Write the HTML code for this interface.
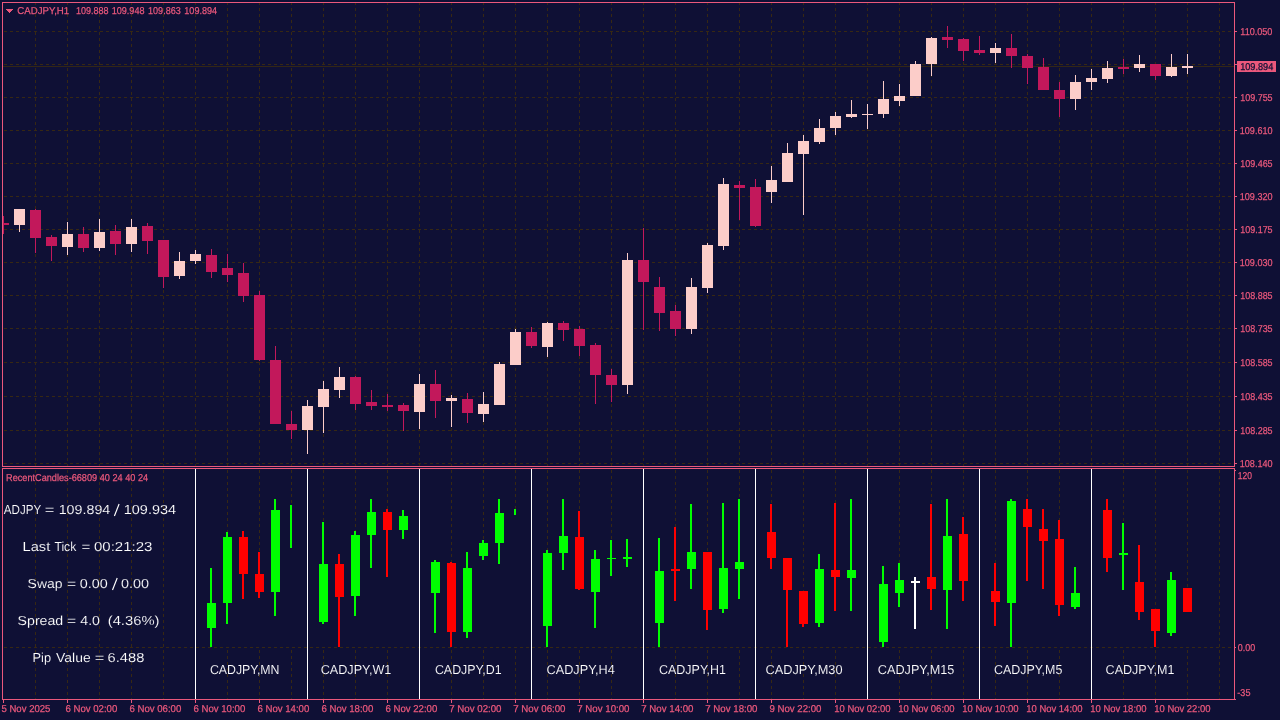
<!DOCTYPE html>
<html><head><meta charset="utf-8"><title>CADJPY,H1</title>
<style>
html,body{margin:0;padding:0;background:#0F1035;width:1280px;height:720px;overflow:hidden}
svg{display:block;position:absolute;left:0;top:0;will-change:transform}
text{font-family:"Liberation Sans",sans-serif;white-space:pre;text-rendering:geometricPrecision}
</style></head>
<body>
<svg width="1280" height="720" viewBox="0 0 1280 720" shape-rendering="crispEdges">
<defs>
<clipPath id="mainclip"><rect x="3" y="3" width="1231" height="463"/></clipPath>
<clipPath id="subclip"><rect x="3" y="469" width="1231" height="230"/></clipPath>
</defs>
<rect x="0" y="0" width="1280" height="720" fill="#0F1035"/>
<g id="grid">
<line x1="35.5" y1="3" x2="35.5" y2="466" stroke="#372813" stroke-width="1" stroke-dasharray="3 3" stroke-dashoffset="1"/>
<line x1="35.5" y1="469" x2="35.5" y2="699" stroke="#372813" stroke-width="1" stroke-dasharray="3 3" stroke-dashoffset="5"/>
<line x1="67.5" y1="3" x2="67.5" y2="466" stroke="#372813" stroke-width="1" stroke-dasharray="3 3" stroke-dashoffset="1"/>
<line x1="67.5" y1="469" x2="67.5" y2="699" stroke="#372813" stroke-width="1" stroke-dasharray="3 3" stroke-dashoffset="5"/>
<line x1="99.5" y1="3" x2="99.5" y2="466" stroke="#372813" stroke-width="1" stroke-dasharray="3 3" stroke-dashoffset="1"/>
<line x1="99.5" y1="469" x2="99.5" y2="699" stroke="#372813" stroke-width="1" stroke-dasharray="3 3" stroke-dashoffset="5"/>
<line x1="131.5" y1="3" x2="131.5" y2="466" stroke="#372813" stroke-width="1" stroke-dasharray="3 3" stroke-dashoffset="1"/>
<line x1="131.5" y1="469" x2="131.5" y2="699" stroke="#372813" stroke-width="1" stroke-dasharray="3 3" stroke-dashoffset="5"/>
<line x1="163.5" y1="3" x2="163.5" y2="466" stroke="#372813" stroke-width="1" stroke-dasharray="3 3" stroke-dashoffset="1"/>
<line x1="163.5" y1="469" x2="163.5" y2="699" stroke="#372813" stroke-width="1" stroke-dasharray="3 3" stroke-dashoffset="5"/>
<line x1="195.5" y1="3" x2="195.5" y2="466" stroke="#372813" stroke-width="1" stroke-dasharray="3 3" stroke-dashoffset="1"/>
<line x1="195.5" y1="469" x2="195.5" y2="699" stroke="#372813" stroke-width="1" stroke-dasharray="3 3" stroke-dashoffset="5"/>
<line x1="227.5" y1="3" x2="227.5" y2="466" stroke="#372813" stroke-width="1" stroke-dasharray="3 3" stroke-dashoffset="1"/>
<line x1="227.5" y1="469" x2="227.5" y2="699" stroke="#372813" stroke-width="1" stroke-dasharray="3 3" stroke-dashoffset="5"/>
<line x1="259.5" y1="3" x2="259.5" y2="466" stroke="#372813" stroke-width="1" stroke-dasharray="3 3" stroke-dashoffset="1"/>
<line x1="259.5" y1="469" x2="259.5" y2="699" stroke="#372813" stroke-width="1" stroke-dasharray="3 3" stroke-dashoffset="5"/>
<line x1="291.5" y1="3" x2="291.5" y2="466" stroke="#372813" stroke-width="1" stroke-dasharray="3 3" stroke-dashoffset="1"/>
<line x1="291.5" y1="469" x2="291.5" y2="699" stroke="#372813" stroke-width="1" stroke-dasharray="3 3" stroke-dashoffset="5"/>
<line x1="323.5" y1="3" x2="323.5" y2="466" stroke="#372813" stroke-width="1" stroke-dasharray="3 3" stroke-dashoffset="1"/>
<line x1="323.5" y1="469" x2="323.5" y2="699" stroke="#372813" stroke-width="1" stroke-dasharray="3 3" stroke-dashoffset="5"/>
<line x1="355.5" y1="3" x2="355.5" y2="466" stroke="#372813" stroke-width="1" stroke-dasharray="3 3" stroke-dashoffset="1"/>
<line x1="355.5" y1="469" x2="355.5" y2="699" stroke="#372813" stroke-width="1" stroke-dasharray="3 3" stroke-dashoffset="5"/>
<line x1="387.5" y1="3" x2="387.5" y2="466" stroke="#372813" stroke-width="1" stroke-dasharray="3 3" stroke-dashoffset="1"/>
<line x1="387.5" y1="469" x2="387.5" y2="699" stroke="#372813" stroke-width="1" stroke-dasharray="3 3" stroke-dashoffset="5"/>
<line x1="419.5" y1="3" x2="419.5" y2="466" stroke="#372813" stroke-width="1" stroke-dasharray="3 3" stroke-dashoffset="1"/>
<line x1="419.5" y1="469" x2="419.5" y2="699" stroke="#372813" stroke-width="1" stroke-dasharray="3 3" stroke-dashoffset="5"/>
<line x1="451.5" y1="3" x2="451.5" y2="466" stroke="#372813" stroke-width="1" stroke-dasharray="3 3" stroke-dashoffset="1"/>
<line x1="451.5" y1="469" x2="451.5" y2="699" stroke="#372813" stroke-width="1" stroke-dasharray="3 3" stroke-dashoffset="5"/>
<line x1="483.5" y1="3" x2="483.5" y2="466" stroke="#372813" stroke-width="1" stroke-dasharray="3 3" stroke-dashoffset="1"/>
<line x1="483.5" y1="469" x2="483.5" y2="699" stroke="#372813" stroke-width="1" stroke-dasharray="3 3" stroke-dashoffset="5"/>
<line x1="515.5" y1="3" x2="515.5" y2="466" stroke="#372813" stroke-width="1" stroke-dasharray="3 3" stroke-dashoffset="1"/>
<line x1="515.5" y1="469" x2="515.5" y2="699" stroke="#372813" stroke-width="1" stroke-dasharray="3 3" stroke-dashoffset="5"/>
<line x1="547.5" y1="3" x2="547.5" y2="466" stroke="#372813" stroke-width="1" stroke-dasharray="3 3" stroke-dashoffset="1"/>
<line x1="547.5" y1="469" x2="547.5" y2="699" stroke="#372813" stroke-width="1" stroke-dasharray="3 3" stroke-dashoffset="5"/>
<line x1="579.5" y1="3" x2="579.5" y2="466" stroke="#372813" stroke-width="1" stroke-dasharray="3 3" stroke-dashoffset="1"/>
<line x1="579.5" y1="469" x2="579.5" y2="699" stroke="#372813" stroke-width="1" stroke-dasharray="3 3" stroke-dashoffset="5"/>
<line x1="611.5" y1="3" x2="611.5" y2="466" stroke="#372813" stroke-width="1" stroke-dasharray="3 3" stroke-dashoffset="1"/>
<line x1="611.5" y1="469" x2="611.5" y2="699" stroke="#372813" stroke-width="1" stroke-dasharray="3 3" stroke-dashoffset="5"/>
<line x1="643.5" y1="3" x2="643.5" y2="466" stroke="#372813" stroke-width="1" stroke-dasharray="3 3" stroke-dashoffset="1"/>
<line x1="643.5" y1="469" x2="643.5" y2="699" stroke="#372813" stroke-width="1" stroke-dasharray="3 3" stroke-dashoffset="5"/>
<line x1="675.5" y1="3" x2="675.5" y2="466" stroke="#372813" stroke-width="1" stroke-dasharray="3 3" stroke-dashoffset="1"/>
<line x1="675.5" y1="469" x2="675.5" y2="699" stroke="#372813" stroke-width="1" stroke-dasharray="3 3" stroke-dashoffset="5"/>
<line x1="707.5" y1="3" x2="707.5" y2="466" stroke="#372813" stroke-width="1" stroke-dasharray="3 3" stroke-dashoffset="1"/>
<line x1="707.5" y1="469" x2="707.5" y2="699" stroke="#372813" stroke-width="1" stroke-dasharray="3 3" stroke-dashoffset="5"/>
<line x1="739.5" y1="3" x2="739.5" y2="466" stroke="#372813" stroke-width="1" stroke-dasharray="3 3" stroke-dashoffset="1"/>
<line x1="739.5" y1="469" x2="739.5" y2="699" stroke="#372813" stroke-width="1" stroke-dasharray="3 3" stroke-dashoffset="5"/>
<line x1="771.5" y1="3" x2="771.5" y2="466" stroke="#372813" stroke-width="1" stroke-dasharray="3 3" stroke-dashoffset="1"/>
<line x1="771.5" y1="469" x2="771.5" y2="699" stroke="#372813" stroke-width="1" stroke-dasharray="3 3" stroke-dashoffset="5"/>
<line x1="803.5" y1="3" x2="803.5" y2="466" stroke="#372813" stroke-width="1" stroke-dasharray="3 3" stroke-dashoffset="1"/>
<line x1="803.5" y1="469" x2="803.5" y2="699" stroke="#372813" stroke-width="1" stroke-dasharray="3 3" stroke-dashoffset="5"/>
<line x1="835.5" y1="3" x2="835.5" y2="466" stroke="#372813" stroke-width="1" stroke-dasharray="3 3" stroke-dashoffset="1"/>
<line x1="835.5" y1="469" x2="835.5" y2="699" stroke="#372813" stroke-width="1" stroke-dasharray="3 3" stroke-dashoffset="5"/>
<line x1="867.5" y1="3" x2="867.5" y2="466" stroke="#372813" stroke-width="1" stroke-dasharray="3 3" stroke-dashoffset="1"/>
<line x1="867.5" y1="469" x2="867.5" y2="699" stroke="#372813" stroke-width="1" stroke-dasharray="3 3" stroke-dashoffset="5"/>
<line x1="899.5" y1="3" x2="899.5" y2="466" stroke="#372813" stroke-width="1" stroke-dasharray="3 3" stroke-dashoffset="1"/>
<line x1="899.5" y1="469" x2="899.5" y2="699" stroke="#372813" stroke-width="1" stroke-dasharray="3 3" stroke-dashoffset="5"/>
<line x1="931.5" y1="3" x2="931.5" y2="466" stroke="#372813" stroke-width="1" stroke-dasharray="3 3" stroke-dashoffset="1"/>
<line x1="931.5" y1="469" x2="931.5" y2="699" stroke="#372813" stroke-width="1" stroke-dasharray="3 3" stroke-dashoffset="5"/>
<line x1="963.5" y1="3" x2="963.5" y2="466" stroke="#372813" stroke-width="1" stroke-dasharray="3 3" stroke-dashoffset="1"/>
<line x1="963.5" y1="469" x2="963.5" y2="699" stroke="#372813" stroke-width="1" stroke-dasharray="3 3" stroke-dashoffset="5"/>
<line x1="995.5" y1="3" x2="995.5" y2="466" stroke="#372813" stroke-width="1" stroke-dasharray="3 3" stroke-dashoffset="1"/>
<line x1="995.5" y1="469" x2="995.5" y2="699" stroke="#372813" stroke-width="1" stroke-dasharray="3 3" stroke-dashoffset="5"/>
<line x1="1027.5" y1="3" x2="1027.5" y2="466" stroke="#372813" stroke-width="1" stroke-dasharray="3 3" stroke-dashoffset="1"/>
<line x1="1027.5" y1="469" x2="1027.5" y2="699" stroke="#372813" stroke-width="1" stroke-dasharray="3 3" stroke-dashoffset="5"/>
<line x1="1059.5" y1="3" x2="1059.5" y2="466" stroke="#372813" stroke-width="1" stroke-dasharray="3 3" stroke-dashoffset="1"/>
<line x1="1059.5" y1="469" x2="1059.5" y2="699" stroke="#372813" stroke-width="1" stroke-dasharray="3 3" stroke-dashoffset="5"/>
<line x1="1091.5" y1="3" x2="1091.5" y2="466" stroke="#372813" stroke-width="1" stroke-dasharray="3 3" stroke-dashoffset="1"/>
<line x1="1091.5" y1="469" x2="1091.5" y2="699" stroke="#372813" stroke-width="1" stroke-dasharray="3 3" stroke-dashoffset="5"/>
<line x1="1123.5" y1="3" x2="1123.5" y2="466" stroke="#372813" stroke-width="1" stroke-dasharray="3 3" stroke-dashoffset="1"/>
<line x1="1123.5" y1="469" x2="1123.5" y2="699" stroke="#372813" stroke-width="1" stroke-dasharray="3 3" stroke-dashoffset="5"/>
<line x1="1155.5" y1="3" x2="1155.5" y2="466" stroke="#372813" stroke-width="1" stroke-dasharray="3 3" stroke-dashoffset="1"/>
<line x1="1155.5" y1="469" x2="1155.5" y2="699" stroke="#372813" stroke-width="1" stroke-dasharray="3 3" stroke-dashoffset="5"/>
<line x1="1187.5" y1="3" x2="1187.5" y2="466" stroke="#372813" stroke-width="1" stroke-dasharray="3 3" stroke-dashoffset="1"/>
<line x1="1187.5" y1="469" x2="1187.5" y2="699" stroke="#372813" stroke-width="1" stroke-dasharray="3 3" stroke-dashoffset="5"/>
<line x1="1219.5" y1="3" x2="1219.5" y2="466" stroke="#372813" stroke-width="1" stroke-dasharray="3 3" stroke-dashoffset="1"/>
<line x1="1219.5" y1="469" x2="1219.5" y2="699" stroke="#372813" stroke-width="1" stroke-dasharray="3 3" stroke-dashoffset="5"/>
<line x1="3" y1="31.5" x2="1234" y2="31.5" stroke="#372813" stroke-width="1" stroke-dasharray="3 3" stroke-dashoffset="5"/>
<line x1="3" y1="64.5" x2="1234" y2="64.5" stroke="#372813" stroke-width="1" stroke-dasharray="3 3" stroke-dashoffset="5"/>
<line x1="3" y1="97.5" x2="1234" y2="97.5" stroke="#372813" stroke-width="1" stroke-dasharray="3 3" stroke-dashoffset="5"/>
<line x1="3" y1="130.5" x2="1234" y2="130.5" stroke="#372813" stroke-width="1" stroke-dasharray="3 3" stroke-dashoffset="5"/>
<line x1="3" y1="163.5" x2="1234" y2="163.5" stroke="#372813" stroke-width="1" stroke-dasharray="3 3" stroke-dashoffset="5"/>
<line x1="3" y1="196.5" x2="1234" y2="196.5" stroke="#372813" stroke-width="1" stroke-dasharray="3 3" stroke-dashoffset="5"/>
<line x1="3" y1="229.5" x2="1234" y2="229.5" stroke="#372813" stroke-width="1" stroke-dasharray="3 3" stroke-dashoffset="5"/>
<line x1="3" y1="262.5" x2="1234" y2="262.5" stroke="#372813" stroke-width="1" stroke-dasharray="3 3" stroke-dashoffset="5"/>
<line x1="3" y1="295.5" x2="1234" y2="295.5" stroke="#372813" stroke-width="1" stroke-dasharray="3 3" stroke-dashoffset="5"/>
<line x1="3" y1="328.5" x2="1234" y2="328.5" stroke="#372813" stroke-width="1" stroke-dasharray="3 3" stroke-dashoffset="5"/>
<line x1="3" y1="362.5" x2="1234" y2="362.5" stroke="#372813" stroke-width="1" stroke-dasharray="3 3" stroke-dashoffset="5"/>
<line x1="3" y1="396.5" x2="1234" y2="396.5" stroke="#372813" stroke-width="1" stroke-dasharray="3 3" stroke-dashoffset="5"/>
<line x1="3" y1="430.5" x2="1234" y2="430.5" stroke="#372813" stroke-width="1" stroke-dasharray="3 3" stroke-dashoffset="5"/>
<line x1="3" y1="463.5" x2="1234" y2="463.5" stroke="#372813" stroke-width="1" stroke-dasharray="3 3" stroke-dashoffset="5"/>
<line x1="3" y1="647.5" x2="1234" y2="647.5" stroke="#372813" stroke-width="1" stroke-dasharray="3 3" stroke-dashoffset="5"/>
</g>
<rect x="3" y="66" width="1231" height="1" fill="#322617"/>
<g id="candles" clip-path="url(#mainclip)">
<rect x="3" y="216" width="1" height="18" fill="#C2185B"/>
<rect x="-2" y="223" width="11" height="2" fill="#C2185B"/>
<rect x="19" y="209" width="1" height="23" fill="#FCCDC9"/>
<rect x="14" y="209" width="11" height="16" fill="#FCCDC9"/>
<rect x="35" y="209" width="1" height="44" fill="#C2185B"/>
<rect x="30" y="210" width="11" height="28" fill="#C2185B"/>
<rect x="51" y="235" width="1" height="26" fill="#C2185B"/>
<rect x="46" y="237" width="11" height="9" fill="#C2185B"/>
<rect x="67" y="222" width="1" height="33" fill="#FCCDC9"/>
<rect x="62" y="234" width="11" height="13" fill="#FCCDC9"/>
<rect x="83" y="227" width="1" height="25" fill="#C2185B"/>
<rect x="78" y="234" width="11" height="14" fill="#C2185B"/>
<rect x="99" y="219" width="1" height="32" fill="#FCCDC9"/>
<rect x="94" y="232" width="11" height="16" fill="#FCCDC9"/>
<rect x="115" y="225" width="1" height="30" fill="#C2185B"/>
<rect x="110" y="231" width="11" height="13" fill="#C2185B"/>
<rect x="131" y="219" width="1" height="33" fill="#FCCDC9"/>
<rect x="126" y="227" width="11" height="17" fill="#FCCDC9"/>
<rect x="147" y="223" width="1" height="31" fill="#C2185B"/>
<rect x="142" y="226" width="11" height="15" fill="#C2185B"/>
<rect x="163" y="240" width="1" height="48" fill="#C2185B"/>
<rect x="158" y="240" width="11" height="37" fill="#C2185B"/>
<rect x="179" y="252" width="1" height="27" fill="#FCCDC9"/>
<rect x="174" y="261" width="11" height="15" fill="#FCCDC9"/>
<rect x="195" y="250" width="1" height="14" fill="#FCCDC9"/>
<rect x="190" y="254" width="11" height="7" fill="#FCCDC9"/>
<rect x="211" y="249" width="1" height="29" fill="#C2185B"/>
<rect x="206" y="255" width="11" height="17" fill="#C2185B"/>
<rect x="227" y="254" width="1" height="28" fill="#C2185B"/>
<rect x="222" y="268" width="11" height="7" fill="#C2185B"/>
<rect x="243" y="263" width="1" height="39" fill="#C2185B"/>
<rect x="238" y="273" width="11" height="23" fill="#C2185B"/>
<rect x="259" y="291" width="1" height="70" fill="#C2185B"/>
<rect x="254" y="295" width="11" height="65" fill="#C2185B"/>
<rect x="275" y="346" width="1" height="78" fill="#C2185B"/>
<rect x="270" y="360" width="11" height="64" fill="#C2185B"/>
<rect x="291" y="411" width="1" height="28" fill="#C2185B"/>
<rect x="286" y="424" width="11" height="6" fill="#C2185B"/>
<rect x="307" y="400" width="1" height="54" fill="#FCCDC9"/>
<rect x="302" y="406" width="11" height="24" fill="#FCCDC9"/>
<rect x="323" y="381" width="1" height="52" fill="#FCCDC9"/>
<rect x="318" y="389" width="11" height="18" fill="#FCCDC9"/>
<rect x="339" y="367" width="1" height="31" fill="#FCCDC9"/>
<rect x="334" y="377" width="11" height="13" fill="#FCCDC9"/>
<rect x="355" y="376" width="1" height="34" fill="#C2185B"/>
<rect x="350" y="377" width="11" height="27" fill="#C2185B"/>
<rect x="371" y="390" width="1" height="20" fill="#C2185B"/>
<rect x="366" y="402" width="11" height="4" fill="#C2185B"/>
<rect x="387" y="394" width="1" height="17" fill="#C2185B"/>
<rect x="382" y="405" width="11" height="2" fill="#C2185B"/>
<rect x="403" y="403" width="1" height="28" fill="#C2185B"/>
<rect x="398" y="405" width="11" height="6" fill="#C2185B"/>
<rect x="419" y="374" width="1" height="55" fill="#FCCDC9"/>
<rect x="414" y="384" width="11" height="28" fill="#FCCDC9"/>
<rect x="435" y="370" width="1" height="48" fill="#C2185B"/>
<rect x="430" y="384" width="11" height="17" fill="#C2185B"/>
<rect x="451" y="395" width="1" height="32" fill="#FCCDC9"/>
<rect x="446" y="398" width="11" height="3" fill="#FCCDC9"/>
<rect x="467" y="393" width="1" height="30" fill="#C2185B"/>
<rect x="462" y="399" width="11" height="14" fill="#C2185B"/>
<rect x="483" y="392" width="1" height="30" fill="#FCCDC9"/>
<rect x="478" y="404" width="11" height="10" fill="#FCCDC9"/>
<rect x="499" y="362" width="1" height="43" fill="#FCCDC9"/>
<rect x="494" y="364" width="11" height="41" fill="#FCCDC9"/>
<rect x="515" y="329" width="1" height="36" fill="#FCCDC9"/>
<rect x="510" y="332" width="11" height="33" fill="#FCCDC9"/>
<rect x="531" y="327" width="1" height="21" fill="#C2185B"/>
<rect x="526" y="332" width="11" height="14" fill="#C2185B"/>
<rect x="547" y="322" width="1" height="35" fill="#FCCDC9"/>
<rect x="542" y="323" width="11" height="24" fill="#FCCDC9"/>
<rect x="563" y="321" width="1" height="20" fill="#C2185B"/>
<rect x="558" y="323" width="11" height="7" fill="#C2185B"/>
<rect x="579" y="326" width="1" height="30" fill="#C2185B"/>
<rect x="574" y="329" width="11" height="17" fill="#C2185B"/>
<rect x="595" y="343" width="1" height="61" fill="#C2185B"/>
<rect x="590" y="345" width="11" height="30" fill="#C2185B"/>
<rect x="611" y="369" width="1" height="33" fill="#C2185B"/>
<rect x="606" y="375" width="11" height="10" fill="#C2185B"/>
<rect x="627" y="253" width="1" height="141" fill="#FCCDC9"/>
<rect x="622" y="260" width="11" height="125" fill="#FCCDC9"/>
<rect x="643" y="228" width="1" height="102" fill="#C2185B"/>
<rect x="638" y="260" width="11" height="22" fill="#C2185B"/>
<rect x="659" y="277" width="1" height="54" fill="#C2185B"/>
<rect x="654" y="287" width="11" height="26" fill="#C2185B"/>
<rect x="675" y="305" width="1" height="31" fill="#C2185B"/>
<rect x="670" y="311" width="11" height="18" fill="#C2185B"/>
<rect x="691" y="278" width="1" height="56" fill="#FCCDC9"/>
<rect x="686" y="287" width="11" height="42" fill="#FCCDC9"/>
<rect x="707" y="243" width="1" height="50" fill="#FCCDC9"/>
<rect x="702" y="245" width="11" height="43" fill="#FCCDC9"/>
<rect x="723" y="178" width="1" height="72" fill="#FCCDC9"/>
<rect x="718" y="184" width="11" height="62" fill="#FCCDC9"/>
<rect x="739" y="181" width="1" height="39" fill="#C2185B"/>
<rect x="734" y="185" width="11" height="3" fill="#C2185B"/>
<rect x="755" y="179" width="1" height="48" fill="#C2185B"/>
<rect x="750" y="187" width="11" height="39" fill="#C2185B"/>
<rect x="771" y="166" width="1" height="37" fill="#FCCDC9"/>
<rect x="766" y="180" width="11" height="12" fill="#FCCDC9"/>
<rect x="787" y="143" width="1" height="39" fill="#FCCDC9"/>
<rect x="782" y="153" width="11" height="29" fill="#FCCDC9"/>
<rect x="803" y="135" width="1" height="80" fill="#FCCDC9"/>
<rect x="798" y="141" width="11" height="13" fill="#FCCDC9"/>
<rect x="819" y="119" width="1" height="25" fill="#FCCDC9"/>
<rect x="814" y="128" width="11" height="14" fill="#FCCDC9"/>
<rect x="835" y="112" width="1" height="23" fill="#FCCDC9"/>
<rect x="830" y="116" width="11" height="12" fill="#FCCDC9"/>
<rect x="851" y="100" width="1" height="18" fill="#FCCDC9"/>
<rect x="846" y="114" width="11" height="3" fill="#FCCDC9"/>
<rect x="867" y="104" width="1" height="25" fill="#FCCDC9"/>
<rect x="862" y="114" width="11" height="1" fill="#FCCDC9"/>
<rect x="883" y="81" width="1" height="37" fill="#FCCDC9"/>
<rect x="878" y="99" width="11" height="15" fill="#FCCDC9"/>
<rect x="899" y="84" width="1" height="22" fill="#FCCDC9"/>
<rect x="894" y="96" width="11" height="5" fill="#FCCDC9"/>
<rect x="915" y="61" width="1" height="35" fill="#FCCDC9"/>
<rect x="910" y="64" width="11" height="32" fill="#FCCDC9"/>
<rect x="931" y="37" width="1" height="39" fill="#FCCDC9"/>
<rect x="926" y="38" width="11" height="26" fill="#FCCDC9"/>
<rect x="947" y="26" width="1" height="22" fill="#C2185B"/>
<rect x="942" y="37" width="11" height="3" fill="#C2185B"/>
<rect x="963" y="38" width="1" height="23" fill="#C2185B"/>
<rect x="958" y="39" width="11" height="12" fill="#C2185B"/>
<rect x="979" y="36" width="1" height="19" fill="#C2185B"/>
<rect x="974" y="50" width="11" height="3" fill="#C2185B"/>
<rect x="995" y="43" width="1" height="20" fill="#FCCDC9"/>
<rect x="990" y="48" width="11" height="5" fill="#FCCDC9"/>
<rect x="1011" y="34" width="1" height="34" fill="#C2185B"/>
<rect x="1006" y="48" width="11" height="8" fill="#C2185B"/>
<rect x="1027" y="54" width="1" height="30" fill="#C2185B"/>
<rect x="1022" y="56" width="11" height="12" fill="#C2185B"/>
<rect x="1043" y="58" width="1" height="32" fill="#C2185B"/>
<rect x="1038" y="67" width="11" height="23" fill="#C2185B"/>
<rect x="1059" y="82" width="1" height="35" fill="#C2185B"/>
<rect x="1054" y="90" width="11" height="9" fill="#C2185B"/>
<rect x="1075" y="75" width="1" height="35" fill="#FCCDC9"/>
<rect x="1070" y="82" width="11" height="17" fill="#FCCDC9"/>
<rect x="1091" y="69" width="1" height="21" fill="#FCCDC9"/>
<rect x="1086" y="78" width="11" height="4" fill="#FCCDC9"/>
<rect x="1107" y="61" width="1" height="22" fill="#FCCDC9"/>
<rect x="1102" y="68" width="11" height="11" fill="#FCCDC9"/>
<rect x="1123" y="59" width="1" height="15" fill="#C2185B"/>
<rect x="1118" y="67" width="11" height="2" fill="#C2185B"/>
<rect x="1139" y="55" width="1" height="17" fill="#FCCDC9"/>
<rect x="1134" y="64" width="11" height="4" fill="#FCCDC9"/>
<rect x="1155" y="64" width="1" height="16" fill="#C2185B"/>
<rect x="1150" y="64" width="11" height="12" fill="#C2185B"/>
<rect x="1171" y="54" width="1" height="23" fill="#FCCDC9"/>
<rect x="1166" y="67" width="11" height="9" fill="#FCCDC9"/>
<rect x="1187" y="54" width="1" height="20" fill="#FCCDC9"/>
<rect x="1182" y="66" width="11" height="2" fill="#FCCDC9"/>
</g>
<g id="sub">
<rect x="210" y="568" width="2" height="79" fill="#0F1035"/>
<rect x="210" y="568" width="2" height="79" fill="#00FF00"/>
<rect x="207" y="603" width="9" height="25" fill="#00FF00"/>
<rect x="226" y="532" width="2" height="115" fill="#0F1035"/>
<rect x="226" y="532" width="2" height="92" fill="#00FF00"/>
<rect x="223" y="537" width="9" height="66" fill="#00FF00"/>
<rect x="242" y="531" width="2" height="116" fill="#0F1035"/>
<rect x="242" y="531" width="2" height="68" fill="#FF0000"/>
<rect x="239" y="537" width="9" height="37" fill="#FF0000"/>
<rect x="258" y="552" width="2" height="95" fill="#0F1035"/>
<rect x="258" y="552" width="2" height="46" fill="#FF0000"/>
<rect x="255" y="574" width="9" height="18" fill="#FF0000"/>
<rect x="274" y="499" width="2" height="148" fill="#0F1035"/>
<rect x="274" y="499" width="2" height="117" fill="#00FF00"/>
<rect x="271" y="510" width="9" height="82" fill="#00FF00"/>
<rect x="290" y="505" width="2" height="142" fill="#0F1035"/>
<rect x="290" y="505" width="2" height="43" fill="#00FF00"/>
<rect x="322" y="522" width="2" height="125" fill="#0F1035"/>
<rect x="322" y="522" width="2" height="102" fill="#00FF00"/>
<rect x="319" y="564" width="9" height="58" fill="#00FF00"/>
<rect x="338" y="554" width="2" height="93" fill="#0F1035"/>
<rect x="338" y="554" width="2" height="93" fill="#FF0000"/>
<rect x="335" y="564" width="9" height="33" fill="#FF0000"/>
<rect x="354" y="531" width="2" height="116" fill="#0F1035"/>
<rect x="354" y="531" width="2" height="85" fill="#00FF00"/>
<rect x="351" y="535" width="9" height="61" fill="#00FF00"/>
<rect x="370" y="499" width="2" height="148" fill="#0F1035"/>
<rect x="370" y="499" width="2" height="69" fill="#00FF00"/>
<rect x="367" y="512" width="9" height="23" fill="#00FF00"/>
<rect x="386" y="509" width="2" height="138" fill="#0F1035"/>
<rect x="386" y="509" width="2" height="68" fill="#FF0000"/>
<rect x="383" y="512" width="9" height="18" fill="#FF0000"/>
<rect x="402" y="510" width="2" height="137" fill="#0F1035"/>
<rect x="402" y="510" width="2" height="29" fill="#00FF00"/>
<rect x="399" y="516" width="9" height="14" fill="#00FF00"/>
<rect x="434" y="560" width="2" height="87" fill="#0F1035"/>
<rect x="434" y="560" width="2" height="73" fill="#00FF00"/>
<rect x="431" y="562" width="9" height="31" fill="#00FF00"/>
<rect x="450" y="562" width="2" height="85" fill="#0F1035"/>
<rect x="450" y="562" width="2" height="85" fill="#FF0000"/>
<rect x="447" y="563" width="9" height="69" fill="#FF0000"/>
<rect x="466" y="552" width="2" height="95" fill="#0F1035"/>
<rect x="466" y="552" width="2" height="86" fill="#00FF00"/>
<rect x="463" y="568" width="9" height="64" fill="#00FF00"/>
<rect x="482" y="540" width="2" height="107" fill="#0F1035"/>
<rect x="482" y="540" width="2" height="20" fill="#00FF00"/>
<rect x="479" y="543" width="9" height="13" fill="#00FF00"/>
<rect x="498" y="499" width="2" height="148" fill="#0F1035"/>
<rect x="498" y="499" width="2" height="65" fill="#00FF00"/>
<rect x="495" y="513" width="9" height="30" fill="#00FF00"/>
<rect x="514" y="509" width="2" height="138" fill="#0F1035"/>
<rect x="514" y="509" width="2" height="6" fill="#00FF00"/>
<rect x="546" y="550" width="2" height="97" fill="#0F1035"/>
<rect x="546" y="550" width="2" height="97" fill="#00FF00"/>
<rect x="543" y="553" width="9" height="73" fill="#00FF00"/>
<rect x="562" y="499" width="2" height="148" fill="#0F1035"/>
<rect x="562" y="499" width="2" height="71" fill="#00FF00"/>
<rect x="559" y="536" width="9" height="17" fill="#00FF00"/>
<rect x="578" y="511" width="2" height="136" fill="#0F1035"/>
<rect x="578" y="511" width="2" height="79" fill="#FF0000"/>
<rect x="575" y="537" width="9" height="52" fill="#FF0000"/>
<rect x="594" y="550" width="2" height="97" fill="#0F1035"/>
<rect x="594" y="550" width="2" height="78" fill="#00FF00"/>
<rect x="591" y="559" width="9" height="33" fill="#00FF00"/>
<rect x="610" y="540" width="2" height="107" fill="#0F1035"/>
<rect x="610" y="540" width="2" height="36" fill="#00FF00"/>
<rect x="607" y="558" width="9" height="1" fill="#00FF00"/>
<rect x="626" y="539" width="2" height="108" fill="#0F1035"/>
<rect x="626" y="539" width="2" height="28" fill="#00FF00"/>
<rect x="623" y="557" width="9" height="2" fill="#00FF00"/>
<rect x="658" y="538" width="2" height="109" fill="#0F1035"/>
<rect x="658" y="538" width="2" height="109" fill="#00FF00"/>
<rect x="655" y="571" width="9" height="52" fill="#00FF00"/>
<rect x="674" y="527" width="2" height="120" fill="#0F1035"/>
<rect x="674" y="527" width="2" height="74" fill="#FF0000"/>
<rect x="671" y="569" width="9" height="2" fill="#FF0000"/>
<rect x="690" y="504" width="2" height="143" fill="#0F1035"/>
<rect x="690" y="504" width="2" height="85" fill="#00FF00"/>
<rect x="687" y="552" width="9" height="17" fill="#00FF00"/>
<rect x="706" y="552" width="2" height="95" fill="#0F1035"/>
<rect x="706" y="552" width="2" height="78" fill="#FF0000"/>
<rect x="703" y="552" width="9" height="58" fill="#FF0000"/>
<rect x="722" y="503" width="2" height="144" fill="#0F1035"/>
<rect x="722" y="503" width="2" height="110" fill="#00FF00"/>
<rect x="719" y="568" width="9" height="41" fill="#00FF00"/>
<rect x="738" y="499" width="2" height="148" fill="#0F1035"/>
<rect x="738" y="499" width="2" height="100" fill="#00FF00"/>
<rect x="735" y="562" width="9" height="7" fill="#00FF00"/>
<rect x="770" y="504" width="2" height="143" fill="#0F1035"/>
<rect x="770" y="504" width="2" height="65" fill="#FF0000"/>
<rect x="767" y="532" width="9" height="26" fill="#FF0000"/>
<rect x="786" y="558" width="2" height="89" fill="#0F1035"/>
<rect x="786" y="558" width="2" height="89" fill="#FF0000"/>
<rect x="783" y="558" width="9" height="32" fill="#FF0000"/>
<rect x="802" y="591" width="2" height="56" fill="#0F1035"/>
<rect x="802" y="591" width="2" height="36" fill="#FF0000"/>
<rect x="799" y="591" width="9" height="33" fill="#FF0000"/>
<rect x="818" y="554" width="2" height="93" fill="#0F1035"/>
<rect x="818" y="554" width="2" height="73" fill="#00FF00"/>
<rect x="815" y="569" width="9" height="54" fill="#00FF00"/>
<rect x="834" y="503" width="2" height="144" fill="#0F1035"/>
<rect x="834" y="503" width="2" height="108" fill="#FF0000"/>
<rect x="831" y="570" width="9" height="7" fill="#FF0000"/>
<rect x="850" y="499" width="2" height="148" fill="#0F1035"/>
<rect x="850" y="499" width="2" height="112" fill="#00FF00"/>
<rect x="847" y="570" width="9" height="8" fill="#00FF00"/>
<rect x="882" y="566" width="2" height="81" fill="#0F1035"/>
<rect x="882" y="566" width="2" height="81" fill="#00FF00"/>
<rect x="879" y="584" width="9" height="58" fill="#00FF00"/>
<rect x="898" y="563" width="2" height="84" fill="#0F1035"/>
<rect x="898" y="563" width="2" height="44" fill="#00FF00"/>
<rect x="895" y="580" width="9" height="13" fill="#00FF00"/>
<rect x="914" y="577" width="2" height="70" fill="#0F1035"/>
<rect x="914" y="577" width="2" height="52" fill="#FFFFFF"/>
<rect x="911" y="581" width="9" height="2" fill="#FFFFFF"/>
<rect x="930" y="504" width="2" height="143" fill="#0F1035"/>
<rect x="930" y="504" width="2" height="106" fill="#FF0000"/>
<rect x="927" y="577" width="9" height="12" fill="#FF0000"/>
<rect x="946" y="499" width="2" height="148" fill="#0F1035"/>
<rect x="946" y="499" width="2" height="130" fill="#00FF00"/>
<rect x="943" y="536" width="9" height="54" fill="#00FF00"/>
<rect x="962" y="517" width="2" height="130" fill="#0F1035"/>
<rect x="962" y="517" width="2" height="84" fill="#FF0000"/>
<rect x="959" y="534" width="9" height="47" fill="#FF0000"/>
<rect x="994" y="563" width="2" height="84" fill="#0F1035"/>
<rect x="994" y="563" width="2" height="63" fill="#FF0000"/>
<rect x="991" y="591" width="9" height="11" fill="#FF0000"/>
<rect x="1010" y="499" width="2" height="148" fill="#0F1035"/>
<rect x="1010" y="499" width="2" height="148" fill="#00FF00"/>
<rect x="1007" y="501" width="9" height="102" fill="#00FF00"/>
<rect x="1026" y="499" width="2" height="148" fill="#0F1035"/>
<rect x="1026" y="499" width="2" height="82" fill="#FF0000"/>
<rect x="1023" y="509" width="9" height="18" fill="#FF0000"/>
<rect x="1042" y="509" width="2" height="138" fill="#0F1035"/>
<rect x="1042" y="509" width="2" height="80" fill="#FF0000"/>
<rect x="1039" y="529" width="9" height="12" fill="#FF0000"/>
<rect x="1058" y="520" width="2" height="127" fill="#0F1035"/>
<rect x="1058" y="520" width="2" height="96" fill="#FF0000"/>
<rect x="1055" y="539" width="9" height="66" fill="#FF0000"/>
<rect x="1074" y="567" width="2" height="80" fill="#0F1035"/>
<rect x="1074" y="567" width="2" height="42" fill="#00FF00"/>
<rect x="1071" y="593" width="9" height="14" fill="#00FF00"/>
<rect x="1106" y="499" width="2" height="148" fill="#0F1035"/>
<rect x="1106" y="499" width="2" height="73" fill="#FF0000"/>
<rect x="1103" y="510" width="9" height="48" fill="#FF0000"/>
<rect x="1122" y="523" width="2" height="124" fill="#0F1035"/>
<rect x="1122" y="523" width="2" height="67" fill="#00FF00"/>
<rect x="1119" y="553" width="9" height="2" fill="#00FF00"/>
<rect x="1138" y="545" width="2" height="102" fill="#0F1035"/>
<rect x="1138" y="545" width="2" height="75" fill="#FF0000"/>
<rect x="1135" y="582" width="9" height="30" fill="#FF0000"/>
<rect x="1154" y="609" width="2" height="38" fill="#0F1035"/>
<rect x="1154" y="609" width="2" height="38" fill="#FF0000"/>
<rect x="1151" y="609" width="9" height="22" fill="#FF0000"/>
<rect x="1170" y="572" width="2" height="75" fill="#0F1035"/>
<rect x="1170" y="572" width="2" height="64" fill="#00FF00"/>
<rect x="1167" y="580" width="9" height="53" fill="#00FF00"/>
<rect x="1186" y="588" width="2" height="59" fill="#0F1035"/>
<rect x="1186" y="588" width="2" height="24" fill="#FF0000"/>
<rect x="1183" y="588" width="9" height="24" fill="#FF0000"/>
</g>
<rect x="195" y="469" width="1" height="230" fill="#FFFFFF"/>
<rect x="307" y="469" width="1" height="230" fill="#FFFFFF"/>
<rect x="419" y="469" width="1" height="230" fill="#FFFFFF"/>
<rect x="531" y="469" width="1" height="230" fill="#FFFFFF"/>
<rect x="643" y="469" width="1" height="230" fill="#FFFFFF"/>
<rect x="755" y="469" width="1" height="230" fill="#FFFFFF"/>
<rect x="867" y="469" width="1" height="230" fill="#FFFFFF"/>
<rect x="979" y="469" width="1" height="230" fill="#FFFFFF"/>
<rect x="1091" y="469" width="1" height="230" fill="#FFFFFF"/>
<rect x="2" y="2" width="1233" height="1" fill="#EB587C"/>
<rect x="2" y="2" width="1" height="465" fill="#EB587C"/>
<rect x="2" y="466" width="1233" height="1" fill="#EB587C"/>
<rect x="1234" y="2" width="1" height="465" fill="#EB587C"/>
<rect x="2" y="468" width="1233" height="1" fill="#EB587C"/>
<rect x="2" y="468" width="1" height="232" fill="#EB587C"/>
<rect x="1234" y="468" width="1" height="232" fill="#EB587C"/>
<rect x="2" y="699" width="1233" height="1" fill="#EB587C"/>
<rect x="1235" y="31" width="2" height="1" fill="#EB587C"/>
<rect x="1235" y="64" width="2" height="1" fill="#EB587C"/>
<rect x="1235" y="97" width="2" height="1" fill="#EB587C"/>
<rect x="1235" y="130" width="2" height="1" fill="#EB587C"/>
<rect x="1235" y="163" width="2" height="1" fill="#EB587C"/>
<rect x="1235" y="196" width="2" height="1" fill="#EB587C"/>
<rect x="1235" y="229" width="2" height="1" fill="#EB587C"/>
<rect x="1235" y="262" width="2" height="1" fill="#EB587C"/>
<rect x="1235" y="295" width="2" height="1" fill="#EB587C"/>
<rect x="1235" y="328" width="2" height="1" fill="#EB587C"/>
<rect x="1235" y="362" width="2" height="1" fill="#EB587C"/>
<rect x="1235" y="396" width="2" height="1" fill="#EB587C"/>
<rect x="1235" y="430" width="2" height="1" fill="#EB587C"/>
<rect x="1235" y="463" width="2" height="1" fill="#EB587C"/>
<rect x="1235" y="470" width="1" height="1" fill="#EB587C"/>
<rect x="1235" y="647" width="1" height="1" fill="#EB587C"/>
<rect x="1235" y="699" width="1" height="1" fill="#EB587C"/>
<rect x="3" y="700" width="1" height="3" fill="#EB587C"/>
<rect x="67" y="700" width="1" height="3" fill="#EB587C"/>
<rect x="131" y="700" width="1" height="3" fill="#EB587C"/>
<rect x="195" y="700" width="1" height="3" fill="#EB587C"/>
<rect x="259" y="700" width="1" height="3" fill="#EB587C"/>
<rect x="323" y="700" width="1" height="3" fill="#EB587C"/>
<rect x="387" y="700" width="1" height="3" fill="#EB587C"/>
<rect x="451" y="700" width="1" height="3" fill="#EB587C"/>
<rect x="515" y="700" width="1" height="3" fill="#EB587C"/>
<rect x="579" y="700" width="1" height="3" fill="#EB587C"/>
<rect x="643" y="700" width="1" height="3" fill="#EB587C"/>
<rect x="707" y="700" width="1" height="3" fill="#EB587C"/>
<rect x="771" y="700" width="1" height="3" fill="#EB587C"/>
<rect x="835" y="700" width="1" height="3" fill="#EB587C"/>
<rect x="899" y="700" width="1" height="3" fill="#EB587C"/>
<rect x="963" y="700" width="1" height="3" fill="#EB587C"/>
<rect x="1027" y="700" width="1" height="3" fill="#EB587C"/>
<rect x="1091" y="700" width="1" height="3" fill="#EB587C"/>
<rect x="1155" y="700" width="1" height="3" fill="#EB587C"/>
<rect x="6" y="9" width="7" height="1" fill="#EB587C"/>
<rect x="7" y="10" width="5" height="1" fill="#EB587C"/>
<rect x="8" y="11" width="3" height="1" fill="#EB587C"/>
<rect x="9" y="12" width="1" height="1" fill="#EB587C"/>
<text x="17.33" y="14" font-size="10" fill="#EB587C" textLength="51.85" lengthAdjust="spacingAndGlyphs" stroke="#EB587C" stroke-width="0.25" transform="translate(0 14) scale(1 1) translate(0 -14)">CADJPY,H1</text>
<text x="76.02" y="14" font-size="10" fill="#EB587C" textLength="32.60" lengthAdjust="spacingAndGlyphs" stroke="#EB587C" stroke-width="0.25" transform="translate(0 14) scale(1 1) translate(0 -14)">109.888</text>
<text x="111.71" y="14" font-size="10" fill="#EB587C" textLength="32.82" lengthAdjust="spacingAndGlyphs" stroke="#EB587C" stroke-width="0.25" transform="translate(0 14) scale(1 1) translate(0 -14)">109.948</text>
<text x="148.09" y="14" font-size="10" fill="#EB587C" textLength="32.64" lengthAdjust="spacingAndGlyphs" stroke="#EB587C" stroke-width="0.25" transform="translate(0 14) scale(1 1) translate(0 -14)">109.863</text>
<text x="184.33" y="14" font-size="10" fill="#EB587C" textLength="32.80" lengthAdjust="spacingAndGlyphs" stroke="#EB587C" stroke-width="0.25" transform="translate(0 14) scale(1 1) translate(0 -14)">109.894</text>
<text x="1240.25" y="35" font-size="10" fill="#EB587C" textLength="32.18" lengthAdjust="spacingAndGlyphs" stroke="#EB587C" stroke-width="0.25" transform="translate(0 35) scale(1 1) translate(0 -35)">110.050</text>
<text x="1240.20" y="101" font-size="10" fill="#EB587C" textLength="32.42" lengthAdjust="spacingAndGlyphs" stroke="#EB587C" stroke-width="0.25" transform="translate(0 101) scale(1 1) translate(0 -101)">109.755</text>
<text x="1239.78" y="134" font-size="10" fill="#EB587C" textLength="32.80" lengthAdjust="spacingAndGlyphs" stroke="#EB587C" stroke-width="0.25" transform="translate(0 134) scale(1 1) translate(0 -134)">109.610</text>
<text x="1240.20" y="167" font-size="10" fill="#EB587C" textLength="32.42" lengthAdjust="spacingAndGlyphs" stroke="#EB587C" stroke-width="0.25" transform="translate(0 167) scale(1 1) translate(0 -167)">109.465</text>
<text x="1239.78" y="200" font-size="10" fill="#EB587C" textLength="32.80" lengthAdjust="spacingAndGlyphs" stroke="#EB587C" stroke-width="0.25" transform="translate(0 200) scale(1 1) translate(0 -200)">109.320</text>
<text x="1240.20" y="233" font-size="10" fill="#EB587C" textLength="32.42" lengthAdjust="spacingAndGlyphs" stroke="#EB587C" stroke-width="0.25" transform="translate(0 233) scale(1 1) translate(0 -233)">109.175</text>
<text x="1239.78" y="266" font-size="10" fill="#EB587C" textLength="32.80" lengthAdjust="spacingAndGlyphs" stroke="#EB587C" stroke-width="0.25" transform="translate(0 266) scale(1 1) translate(0 -266)">109.030</text>
<text x="1240.20" y="299" font-size="10" fill="#EB587C" textLength="32.42" lengthAdjust="spacingAndGlyphs" stroke="#EB587C" stroke-width="0.25" transform="translate(0 299) scale(1 1) translate(0 -299)">108.885</text>
<text x="1240.20" y="332" font-size="10" fill="#EB587C" textLength="32.42" lengthAdjust="spacingAndGlyphs" stroke="#EB587C" stroke-width="0.25" transform="translate(0 332) scale(1 1) translate(0 -332)">108.735</text>
<text x="1240.20" y="366" font-size="10" fill="#EB587C" textLength="32.42" lengthAdjust="spacingAndGlyphs" stroke="#EB587C" stroke-width="0.25" transform="translate(0 366) scale(1 1) translate(0 -366)">108.585</text>
<text x="1240.20" y="400" font-size="10" fill="#EB587C" textLength="32.42" lengthAdjust="spacingAndGlyphs" stroke="#EB587C" stroke-width="0.25" transform="translate(0 400) scale(1 1) translate(0 -400)">108.435</text>
<text x="1240.20" y="434" font-size="10" fill="#EB587C" textLength="32.42" lengthAdjust="spacingAndGlyphs" stroke="#EB587C" stroke-width="0.25" transform="translate(0 434) scale(1 1) translate(0 -434)">108.285</text>
<text x="1239.78" y="467" font-size="10" fill="#EB587C" textLength="32.80" lengthAdjust="spacingAndGlyphs" stroke="#EB587C" stroke-width="0.25" transform="translate(0 467) scale(1 1) translate(0 -467)">108.140</text>
<rect x="1237" y="61" width="39" height="11" fill="#EB587C"/>
<text x="1240.13" y="70" font-size="10" fill="#0F1035" textLength="33.13" lengthAdjust="spacingAndGlyphs" stroke="#0F1035" stroke-width="0.25" transform="translate(0 70) scale(1 1) translate(0 -70)">109.894</text>
<text x="1237.83" y="479" font-size="10" fill="#EB587C" textLength="14.19" lengthAdjust="spacingAndGlyphs" stroke="#EB587C" stroke-width="0.25" transform="translate(0 479) scale(1 1) translate(0 -479)">120</text>
<text x="1237.79" y="651" font-size="10" fill="#EB587C" textLength="17.33" lengthAdjust="spacingAndGlyphs" stroke="#EB587C" stroke-width="0.25" transform="translate(0 651) scale(1 1) translate(0 -651)">0.00</text>
<text x="1237.33" y="696" font-size="10" fill="#EB587C" textLength="13.10" lengthAdjust="spacingAndGlyphs" stroke="#EB587C" stroke-width="0.25" transform="translate(0 696) scale(1 1) translate(0 -696)">-35</text>
<text x="6.04" y="481" font-size="10" fill="#EB587C" textLength="142.04" lengthAdjust="spacingAndGlyphs" stroke="#EB587C" stroke-width="0.25" transform="translate(0 481) scale(1 1) translate(0 -481)">RecentCandles-66809 40 24 40 24</text>
<text x="1.49" y="712" font-size="10" fill="#EB587C" textLength="48.94" lengthAdjust="spacingAndGlyphs" stroke="#EB587C" stroke-width="0.25" transform="translate(0 712) scale(1 1) translate(0 -712)">5 Nov 2025</text>
<text x="65.41" y="712" font-size="10" fill="#EB587C" textLength="51.92" lengthAdjust="spacingAndGlyphs" stroke="#EB587C" stroke-width="0.25" transform="translate(0 712) scale(1 1) translate(0 -712)">6 Nov 02:00</text>
<text x="129.41" y="712" font-size="10" fill="#EB587C" textLength="51.92" lengthAdjust="spacingAndGlyphs" stroke="#EB587C" stroke-width="0.25" transform="translate(0 712) scale(1 1) translate(0 -712)">6 Nov 06:00</text>
<text x="193.41" y="712" font-size="10" fill="#EB587C" textLength="51.92" lengthAdjust="spacingAndGlyphs" stroke="#EB587C" stroke-width="0.25" transform="translate(0 712) scale(1 1) translate(0 -712)">6 Nov 10:00</text>
<text x="257.41" y="712" font-size="10" fill="#EB587C" textLength="51.92" lengthAdjust="spacingAndGlyphs" stroke="#EB587C" stroke-width="0.25" transform="translate(0 712) scale(1 1) translate(0 -712)">6 Nov 14:00</text>
<text x="321.41" y="712" font-size="10" fill="#EB587C" textLength="51.92" lengthAdjust="spacingAndGlyphs" stroke="#EB587C" stroke-width="0.25" transform="translate(0 712) scale(1 1) translate(0 -712)">6 Nov 18:00</text>
<text x="385.41" y="712" font-size="10" fill="#EB587C" textLength="51.92" lengthAdjust="spacingAndGlyphs" stroke="#EB587C" stroke-width="0.25" transform="translate(0 712) scale(1 1) translate(0 -712)">6 Nov 22:00</text>
<text x="449.25" y="712" font-size="10" fill="#EB587C" textLength="52.24" lengthAdjust="spacingAndGlyphs" stroke="#EB587C" stroke-width="0.25" transform="translate(0 712) scale(1 1) translate(0 -712)">7 Nov 02:00</text>
<text x="513.25" y="712" font-size="10" fill="#EB587C" textLength="52.24" lengthAdjust="spacingAndGlyphs" stroke="#EB587C" stroke-width="0.25" transform="translate(0 712) scale(1 1) translate(0 -712)">7 Nov 06:00</text>
<text x="577.25" y="712" font-size="10" fill="#EB587C" textLength="52.24" lengthAdjust="spacingAndGlyphs" stroke="#EB587C" stroke-width="0.25" transform="translate(0 712) scale(1 1) translate(0 -712)">7 Nov 10:00</text>
<text x="641.25" y="712" font-size="10" fill="#EB587C" textLength="52.24" lengthAdjust="spacingAndGlyphs" stroke="#EB587C" stroke-width="0.25" transform="translate(0 712) scale(1 1) translate(0 -712)">7 Nov 14:00</text>
<text x="705.25" y="712" font-size="10" fill="#EB587C" textLength="52.24" lengthAdjust="spacingAndGlyphs" stroke="#EB587C" stroke-width="0.25" transform="translate(0 712) scale(1 1) translate(0 -712)">7 Nov 18:00</text>
<text x="769.43" y="712" font-size="10" fill="#EB587C" textLength="52.02" lengthAdjust="spacingAndGlyphs" stroke="#EB587C" stroke-width="0.25" transform="translate(0 712) scale(1 1) translate(0 -712)">9 Nov 22:00</text>
<text x="834.22" y="712" font-size="10" fill="#EB587C" textLength="56.34" lengthAdjust="spacingAndGlyphs" stroke="#EB587C" stroke-width="0.25" transform="translate(0 712) scale(1 1) translate(0 -712)">10 Nov 02:00</text>
<text x="898.22" y="712" font-size="10" fill="#EB587C" textLength="56.34" lengthAdjust="spacingAndGlyphs" stroke="#EB587C" stroke-width="0.25" transform="translate(0 712) scale(1 1) translate(0 -712)">10 Nov 06:00</text>
<text x="962.22" y="712" font-size="10" fill="#EB587C" textLength="56.34" lengthAdjust="spacingAndGlyphs" stroke="#EB587C" stroke-width="0.25" transform="translate(0 712) scale(1 1) translate(0 -712)">10 Nov 10:00</text>
<text x="1026.22" y="712" font-size="10" fill="#EB587C" textLength="56.34" lengthAdjust="spacingAndGlyphs" stroke="#EB587C" stroke-width="0.25" transform="translate(0 712) scale(1 1) translate(0 -712)">10 Nov 14:00</text>
<text x="1090.22" y="712" font-size="10" fill="#EB587C" textLength="56.34" lengthAdjust="spacingAndGlyphs" stroke="#EB587C" stroke-width="0.25" transform="translate(0 712) scale(1 1) translate(0 -712)">10 Nov 18:00</text>
<text x="1154.22" y="712" font-size="10" fill="#EB587C" textLength="56.34" lengthAdjust="spacingAndGlyphs" stroke="#EB587C" stroke-width="0.25" transform="translate(0 712) scale(1 1) translate(0 -712)">10 Nov 22:00</text>
<g clip-path="url(#subclip)">
<text x="3.80" y="514" font-size="13" fill="#FFFFFF" textLength="37.47" lengthAdjust="spacingAndGlyphs" stroke="#0F1035" stroke-width="0.12">ADJPY</text>
<text x="44.72" y="514" font-size="13" fill="#FFFFFF" textLength="9.61" lengthAdjust="spacingAndGlyphs" stroke="#0F1035" stroke-width="0.12">=</text>
<text x="58.66" y="514" font-size="13" fill="#FFFFFF" textLength="51.61" lengthAdjust="spacingAndGlyphs" stroke="#0F1035" stroke-width="0.12">109.894</text>
<line x1="114.4" y1="516" x2="119.1" y2="504" stroke="#FFFFFF" stroke-width="1.15" shape-rendering="geometricPrecision"/>
<text x="123.78" y="514" font-size="13" fill="#FFFFFF" textLength="52.27" lengthAdjust="spacingAndGlyphs" stroke="#0F1035" stroke-width="0.12">109.934</text>
<text x="22.55" y="551" font-size="13" fill="#FFFFFF" textLength="27.70" lengthAdjust="spacingAndGlyphs" stroke="#0F1035" stroke-width="0.12">Last</text>
<text x="54.44" y="551" font-size="13" fill="#FFFFFF" textLength="21.78" lengthAdjust="spacingAndGlyphs" stroke="#0F1035" stroke-width="0.12">Tick</text>
<text x="81.42" y="551" font-size="13" fill="#FFFFFF" textLength="8.81" lengthAdjust="spacingAndGlyphs" stroke="#0F1035" stroke-width="0.12">=</text>
<text x="93.98" y="551" font-size="13" fill="#FFFFFF" textLength="58.42" lengthAdjust="spacingAndGlyphs" stroke="#0F1035" stroke-width="0.12">00:21:23</text>
<text x="27.58" y="588" font-size="13" fill="#FFFFFF" textLength="34.97" lengthAdjust="spacingAndGlyphs" stroke="#0F1035" stroke-width="0.12">Swap</text>
<text x="66.97" y="588" font-size="13" fill="#FFFFFF" textLength="9.12" lengthAdjust="spacingAndGlyphs" stroke="#0F1035" stroke-width="0.12">=</text>
<text x="79.80" y="588" font-size="13" fill="#FFFFFF" textLength="27.99" lengthAdjust="spacingAndGlyphs" stroke="#0F1035" stroke-width="0.12">0.00</text>
<line x1="112.5" y1="590" x2="117.2" y2="578" stroke="#FFFFFF" stroke-width="1.15" shape-rendering="geometricPrecision"/>
<text x="120.97" y="588" font-size="13" fill="#FFFFFF" textLength="28.00" lengthAdjust="spacingAndGlyphs" stroke="#0F1035" stroke-width="0.12">0.00</text>
<text x="17.60" y="625" font-size="13" fill="#FFFFFF" textLength="45.64" lengthAdjust="spacingAndGlyphs" stroke="#0F1035" stroke-width="0.12">Spread</text>
<text x="66.97" y="625" font-size="13" fill="#FFFFFF" textLength="9.12" lengthAdjust="spacingAndGlyphs" stroke="#0F1035" stroke-width="0.12">=</text>
<text x="80.29" y="625" font-size="13" fill="#FFFFFF" textLength="19.70" lengthAdjust="spacingAndGlyphs" stroke="#0F1035" stroke-width="0.12">4.0</text>
<text x="107.74" y="625" font-size="13" fill="#FFFFFF" textLength="51.71" lengthAdjust="spacingAndGlyphs" stroke="#0F1035" stroke-width="0.12">(4.36%)</text>
<text x="32.56" y="662" font-size="13" fill="#FFFFFF" textLength="18.54" lengthAdjust="spacingAndGlyphs" stroke="#0F1035" stroke-width="0.12">Pip</text>
<text x="56.09" y="662" font-size="13" fill="#FFFFFF" textLength="34.61" lengthAdjust="spacingAndGlyphs" stroke="#0F1035" stroke-width="0.12">Value</text>
<text x="94.72" y="662" font-size="13" fill="#FFFFFF" textLength="9.56" lengthAdjust="spacingAndGlyphs" stroke="#0F1035" stroke-width="0.12">=</text>
<text x="107.63" y="662" font-size="13" fill="#FFFFFF" textLength="36.71" lengthAdjust="spacingAndGlyphs" stroke="#0F1035" stroke-width="0.12">6.488</text>
</g>
<text x="209.89" y="674" font-size="13" fill="#FFFFFF" textLength="69.62" lengthAdjust="spacingAndGlyphs" stroke="#0F1035" stroke-width="0.12">CADJPY,MN</text>
<text x="320.72" y="674" font-size="13" fill="#FFFFFF" textLength="70.60" lengthAdjust="spacingAndGlyphs" stroke="#0F1035" stroke-width="0.12">CADJPY,W1</text>
<text x="434.92" y="674" font-size="13" fill="#FFFFFF" textLength="66.64" lengthAdjust="spacingAndGlyphs" stroke="#0F1035" stroke-width="0.12">CADJPY,D1</text>
<text x="546.57" y="674" font-size="13" fill="#FFFFFF" textLength="68.13" lengthAdjust="spacingAndGlyphs" stroke="#0F1035" stroke-width="0.12">CADJPY,H4</text>
<text x="659.06" y="674" font-size="13" fill="#FFFFFF" textLength="66.91" lengthAdjust="spacingAndGlyphs" stroke="#0F1035" stroke-width="0.12">CADJPY,H1</text>
<text x="765.51" y="674" font-size="13" fill="#FFFFFF" textLength="77.01" lengthAdjust="spacingAndGlyphs" stroke="#0F1035" stroke-width="0.12">CADJPY,M30</text>
<text x="877.82" y="674" font-size="13" fill="#FFFFFF" textLength="76.53" lengthAdjust="spacingAndGlyphs" stroke="#0F1035" stroke-width="0.12">CADJPY,M15</text>
<text x="994.10" y="674" font-size="13" fill="#FFFFFF" textLength="68.22" lengthAdjust="spacingAndGlyphs" stroke="#0F1035" stroke-width="0.12">CADJPY,M5</text>
<text x="1105.59" y="674" font-size="13" fill="#FFFFFF" textLength="68.81" lengthAdjust="spacingAndGlyphs" stroke="#0F1035" stroke-width="0.12">CADJPY,M1</text>
</svg>
</body></html>
